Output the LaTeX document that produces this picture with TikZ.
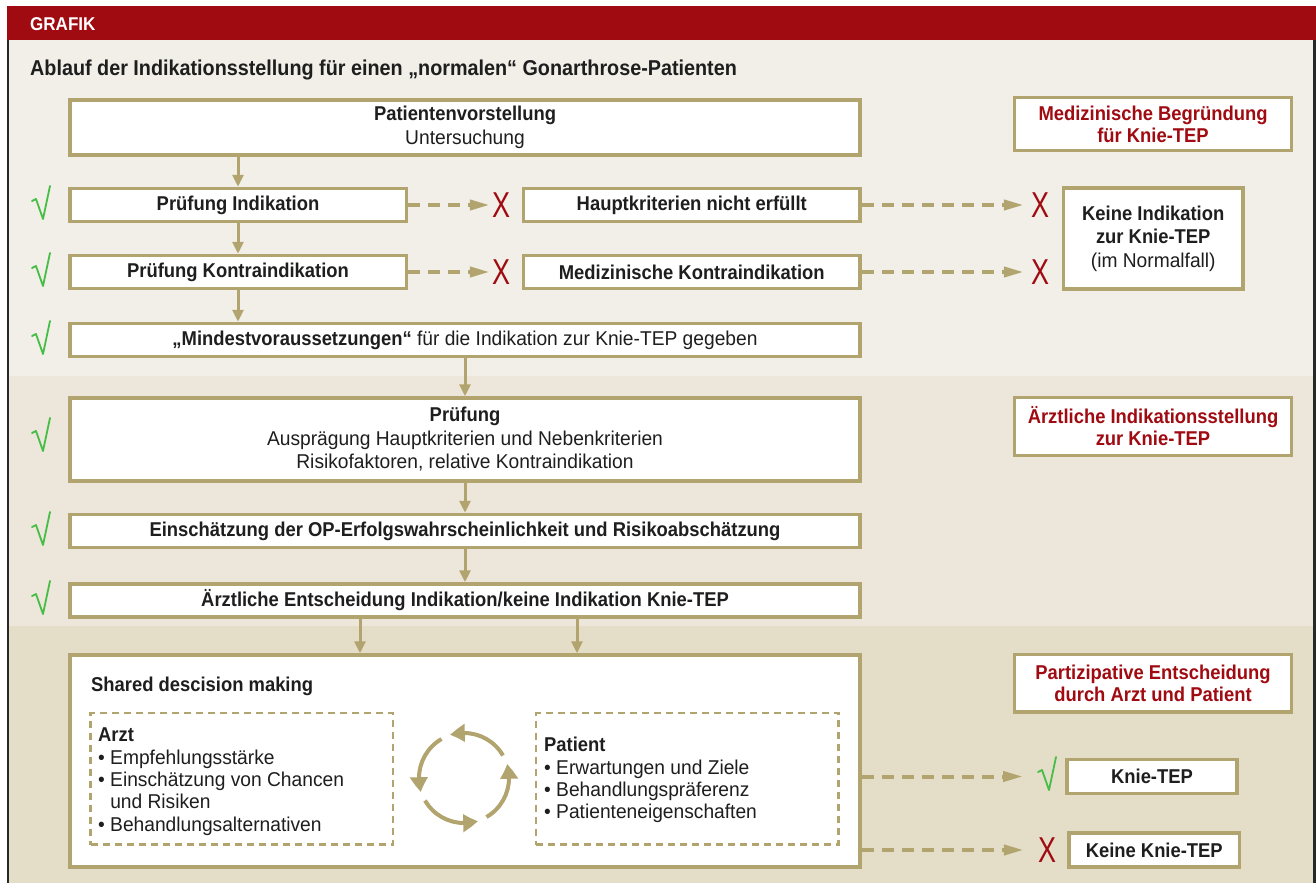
\documentclass[tikz,border=0pt]{standalone}
\usepackage{fontspec}
\setmainfont{Liberation Sans}[FakeStretch=0.96, BoldFeatures={FakeStretch=0.92}]
\newfontfamily\xfont{Liberation Sans}[FakeStretch=0.75]
\usetikzlibrary{arrows.meta,bending}
\definecolor{hdrred}{RGB}{160,10,17}
\definecolor{gold}{RGB}{178,164,110}
\definecolor{bgA}{RGB}{242,239,232}
\definecolor{bgB}{RGB}{237,230,218}
\definecolor{bgC}{RGB}{228,221,200}
\definecolor{okgreen}{RGB}{70,190,70}
\definecolor{txt}{RGB}{30,30,30}
\definecolor{frame}{RGB}{40,40,40}
\begin{document}
\begin{tikzpicture}[x=1pt,y=-1pt,
  every node/.style={text=txt},
  box/.style={draw=gold, line width=3.5pt, fill=white, inner sep=0pt, align=center, font=\fontsize{20}{23.5}\selectfont},
  lbl/.style={box, text=hdrred, font=\bfseries\fontsize{20}{22}\selectfont},
  dbox/.style={draw=gold, line width=2.5pt, dash pattern=on 7pt off 5pt, inner sep=0pt},
  flow/.style={draw=gold, line width=3pt, -{Triangle[length=12pt,width=11pt]}},
  dflow/.style={draw=gold, line width=4pt, dash pattern=on 12pt off 8pt, -{Triangle[length=20pt,width=10pt]}},
  xmark/.style={text=hdrred, font=\xfont\fontsize{36}{36}\selectfont, inner sep=0pt},
  listtext/.style={anchor=north west, align=left, inner sep=0pt, font=\fontsize{20}{22.3}\selectfont},
  chk/.pic={\draw[okgreen,line width=1.8pt,line join=round,line cap=round] (-9,-4) -- (-5,-6) -- (2,14) -- (9,-19);}
]
\useasboundingbox (0,0) rectangle (1316,883);
% backgrounds
\fill[white] (0,0) rectangle (1316,883);
\fill[bgA] (7,40) rectangle (1316,376);
\fill[bgB] (7,376) rectangle (1316,626);
\fill[bgC] (7,626) rectangle (1316,883);
\fill[hdrred] (7,6) rectangle (1316,40);
\draw[frame, line width=2.5pt] (8,40) -- (8,883);
\draw[frame, line width=3pt] (1314.5,40) -- (1314.5,883);
\node[anchor=base west, text=white, font=\bfseries\fontsize{18.5}{20}\selectfont, inner sep=0pt] (g) at (30,31) {GRAFIK};
\node[anchor=base west, font=\bfseries\fontsize{21.5}{22}\selectfont, inner sep=0pt] (title) at (30,75) {Ablauf der Indikationsstellung für einen „normalen“ Gonarthrose-Patienten};

% section 1
\node[box, minimum width=790pt, minimum height=55pt] (b1) at (465,127.5) {\textbf{Patientenvorstellung}\\Untersuchung};
\node[box, minimum width=336.5pt, minimum height=33pt] (b2) at (238,205) {\textbf{Prüfung Indikation}};
\node[box, minimum width=336.5pt, minimum height=33pt] (b3) at (238,272) {\textbf{Prüfung Kontraindikation}};
\node[box, minimum width=336.5pt, minimum height=33pt] (h1) at (691.75,205) {\textbf{Hauptkriterien nicht erfüllt}};
\node[box, minimum width=336.5pt, minimum height=33pt] (h2) at (691.75,272) {\textbf{Medizinische Kontraindikation}};
\node[box, minimum width=179.5pt, minimum height=101pt] (k1) at (1153.25,238.5) {\textbf{Keine Indikation}\\\textbf{zur Knie-TEP}\\(im Normalfall)};
\node[box, minimum width=790pt, minimum height=33pt] (m) at (465,340) {\textbf{„Mindestvoraussetzungen“} für die Indikation zur Knie-TEP gegeben};
\node[lbl, minimum width=277pt, minimum height=53pt] (l1) at (1153,124) {Medizinische Begründung\\für Knie-TEP};

\node[xmark] (x1) at (501,205) {X};
\node[xmark] (x2) at (501,272) {X};
\node[xmark] (x3) at (1040,205) {X};
\node[xmark] (x4) at (1040,272) {X};

% section 2
\node[box, minimum width=790pt, minimum height=83pt] (p) at (465,439.5) {\textbf{Prüfung}\\Ausprägung Hauptkriterien und Nebenkriterien\\Risikofaktoren, relative Kontraindikation};
\node[box, minimum width=790pt, minimum height=33pt] (e) at (465,531) {\textbf{Einschätzung der OP-Erfolgswahrscheinlichkeit und Risikoabschätzung}};
\node[box, minimum width=790pt, minimum height=33pt] (a) at (465,600.5) {\textbf{Ärztliche Entscheidung Indikation/keine Indikation Knie-TEP}};
\node[lbl, minimum width=277pt, minimum height=58pt] (l2) at (1153,426.5) {Ärztliche Indikationsstellung\\zur Knie-TEP};

% section 3
\node[box, minimum width=790pt, minimum height=212pt] (s) at (465,761) {};
\node[anchor=base west, inner sep=0pt, font=\bfseries\fontsize{20}{22}\selectfont] (sdm) at (91,691) {Shared descision making};
\node[dbox, minimum width=302.5pt, minimum height=131.5pt] (dA) at (241.75,778.75) {};
\node[dbox, minimum width=302.5pt, minimum height=131.5pt] (dP) at (687.25,778.75) {};
\node[listtext] (tA) at (98,728) {\textbf{Arzt}\\• Empfehlungsstärke\\• Einschätzung von Chancen\\\hphantom{• }und Risiken\\• Behandlungsalternativen};
\node[listtext] (tP) at (544,737) {\textbf{Patient}\\• Erwartungen und Ziele\\• Behandlungspräferenz\\• Patienteneigenschaften};
\node[lbl, minimum width=277pt, minimum height=57.5pt] (l3) at (1153,683.25) {Partizipative Entscheidung\\durch Arzt und Patient};
\node[box, minimum width=170pt, minimum height=34pt] (kt) at (1152,776.5) {\textbf{Knie-TEP}};
\node[box, minimum width=170.5pt, minimum height=34pt] (kk) at (1154.25,850) {\textbf{Keine Knie-TEP}};
\node[xmark] (x5) at (1047,850) {X};
\coordinate (ck) at (1037,776.5);

% cycle arrows
\foreach \k in {0,1,2,3}
  \draw[gold, line width=4pt, -{Triangle[length=15pt,width=17pt,bend]}]
    (464,778) ++({-30-90*\k}:45) arc[start angle={-30-90*\k}, end angle={-108-90*\k}, radius=45];

% check marks
\foreach \yy in {205,272,340,437,531,600} \pic at (41,\yy) {chk};
\pic at (1047,776) {chk};

% flow arrows
\draw[flow] (b1.south -| b2.north) -- (b2.north);
\draw[flow] (b2.south) -- (b3.north);
\draw[flow] (b3.south) -- (b3.south |- m.north);
\draw[flow] (m.south) -- (p.north);
\draw[flow] (p.south) -- (e.north);
\draw[flow] (e.south) -- (a.north);
\draw[flow] ([xshift=-105pt]a.south) -- ([xshift=-105pt]s.north);
\draw[flow] ([xshift=112pt]a.south) -- ([xshift=112pt]s.north);

% dashed arrows
\draw[dflow, shorten >=2pt] (b2.east) -- (x1.west);
\draw[dflow, shorten >=2pt] (b3.east) -- (x2.west);
\draw[dflow, shorten >=7pt] (h1.east) -- (x3.west);
\draw[dflow, shorten >=7pt] (h2.east) -- (x4.west);
\draw[dflow, shorten >=14pt] (s.east |- kt) -- (ck);
\draw[dflow, shorten >=14pt] (s.east |- kk) -- (x5.west);
\end{tikzpicture}
\end{document}
